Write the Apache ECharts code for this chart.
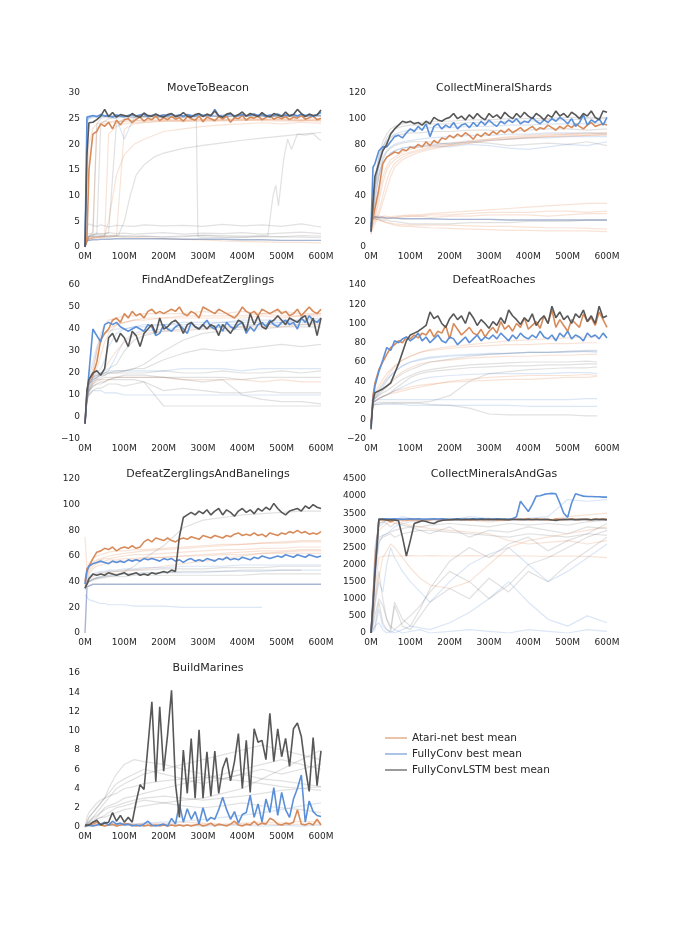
<!DOCTYPE html>
<html><head><meta charset="utf-8">
<script src="https://cdn.jsdelivr.net/npm/echarts@6/dist/echarts.min.js"></script>
<style>html,body{margin:0;padding:0;background:#fff}#c{width:675px;height:945px}</style>
</head><body><div id="c"></div>
<script>
// ---- x grids (training frames, millions) ----
const XB = [0,5,10,20,30,40,50,60,70,80,90,100,110,120,130,140,150,160,170,180,190,200,210,220,230,240,250,260,270,280,290,300,310,320,330,340,350,360,370,380,390,400,410,420,430,440,450,460,470,480,490,500,510,520,530,540,550,560,570,580,590,600];
const XS = [0,5,10,20,30,40,50,60,80,100,125,150,200,250,300,350,400,450,500,550,600];
const XS_R = [0,5,10,20,30,40,50,60,80,100,125,150,200,250,300,350,400,450,500,550,575];
const TITLES = ['MoveToBeacon','CollectMineralShards','FindAndDefeatZerglings','DefeatRoaches','DefeatZerglingsAndBanelings','CollectMineralsAndGas','BuildMarines'];
const LEGEND_NAMES = ['Atari-net best mean','FullyConv best mean','FullyConvLSTM best mean'];

// ---- MoveToBeacon ----
const MTB_ATARI = [0,2, 15,22,22.5,24,23.5,24.3,23,24.7,23.8,24.8, 25,24.2,24.9,25.3,24.5,25.1,24.8,25.5,24.6,25.2, 24.8,25.4,24.9,25.2,24.5,25.4,25.0,24.7,25.5,24.4, 25.3,25.0,24.6,25.4,24.9,25.5,24.3,25.2,25.0,25.6, 24.7,25.3,25.1,25.5,24.8,25.2,25.6,24.9,25.3,25.0, 25.4,24.8,25.3,25.1,25.6,24.9,25.2,25.5,24.8,25.1];
const MTB_FC = [0,25.3, 25.5,25.6,25.4,25.8,25.5,25.6,25.3,25.7,25.5,25.4, 25.6,25.8,25.5,25.7,25.9,25.4,25.6,25.8,25.5,25.7, 25.6,25.9,25.5,25.7,25.4,25.8,25.6,25.5,25.9,25.6, 25.7,25.5,26.8,25.6,25.4,25.7,25.9,25.5,25.6,25.8, 25.5,25.7,25.9,25.6,25.8,25.4,25.7,25.6,25.9,25.5, 25.7,25.6,25.8,25.5,25.9,25.6,25.7,25.4,25.8,26.2];
const MTB_LSTM = [0,18, 24.2,24.3,24.8,25.5,26.8,25.4,26.2,25.3,25.8,25.6, 25.4,26.0,25.5,25.3,26.1,25.6,25.5,25.9,25.5,25.3, 25.8,26.0,25.4,25.6,26.2,25.5,25.3,25.8,26.0,25.4, 25.9,25.6,26.5,25.5,25.3,25.9,26.1,25.4,25.8,26.3, 25.5,26.0,25.7,25.4,26.2,25.6,25.3,26.0,25.7,25.4, 26.3,25.5,25.8,26.8,26.0,25.4,25.9,25.6,25.7,26.7];
const MTB_BG_ATARI = [
 [0,1.5,1.6,1.8,23,24,24,24.2,24.4,24.5, 24.6,24.5,24.7,24.6,24.8,24.7,24.9,24.8,24.8,24.7,24.6],
 [0,1.5,1.6,1.7,1.8,1.9,2,22,23.5,24, 24.2,24.3,24.5,24.4,24.6,24.5,24.7,24.6,24.5,24.6,24.5],
 [0,1.5,1.7,1.8,1.9,2,2.2,5,14,18, 20,21,22.5,23,23.5,23.8,24,24.2,24,24.3,24.1],
 [0,1.3,1.5,1.7,1.8,1.9,2,2,2,1.9, 1.9,1.8,1.6,1.5,1.4,1.2,1.1,1,0.9,0.9,0.8],
 [0,1.5,1.6,1.7,1.8,1.9,1.9,2,2.2,23, 24,24.2,24.5,24.6,24.5,24.7,24.6,24.8,24.7,24.6,24.8],
 [0,12,20,23,24,24.2,24.5,24.4,24.6,24.5, 24.7,24.6,24.8,24.7,24.9,24.8,25,24.9,25,24.8,25]
];
const MTB_BG_FC = [
 [0,24.5,25,25.2,25.4,25.3,25.5,25.4,25,21, 25.3,25.5,25.4,25.6,25.5,25.4,25.6,25.5,25.6,25.4,25.5],
 [0,25,25.3,25.5,25.6,25.5,25.7,25.6,25.5,25.6, 25.7,25.6,25.8,25.7,25.6,25.8,25.7,25.6,25.8,25.7,25.6],
 [0,24,25.2,25.4,25.5,25.6,25.4,25.5,25.7,25.5, 25.6,25.5,25.7,25.6,25.8,25.5,25.6,25.7,25.6,25.5,25.7]
];
const MTB_BG_FC_DENSE = [
 [0,1.2,1.3,1.4,1.4,1.5,1.5,1.5,1.6,1.6, 1.6,1.6,1.6,1.5,1.5,1.5,1.4,1.4,1.3,1.3,1.3]
];
const MTB_BG_LSTM = [
 [0,4,4.5,4.2,4,4.3,4.1,3.9,4.2,4.1, 4,4.3,4.1,4.2,4,4.4,4.1,4.3,4,4.5,3.9],
 [0,2.6,2.8,2.5,2.7,2.6,2.5,2.8,2.6,2.7, 2.5,2.6,2.8,2.5,2.7,2.6,2.8,2.5,2.7,2.9,2.6],
 [0,2,2.1,1.9,2,2.2,2,1.9,2.1,2, 2,2.1,1.9,2,2.2,2,1.9,2.1,2,2.2,2.1],
 [0,1.5,2,3,24,25,25.3,25.2,25.4,25.5, 25.3,25.5,25.4,25.6,25.5,25.4,25.6,25.5,25.4,25.6,25.5],
 [0,2,2.2,2.3,2.4,2.5,2.6,2.8,24,25, 25.2,25.3,25.4,25.3,25.5,25.4,25.6,25.5,25.4,25.5,25.6]
];
const MTB_BG_LSTM_PAIRS = [
 [[0,0],[5,2],[30,2.5],[40,24],[60,25],[100,25.3],[150,25.4],[200,25.2],[250,25.3],[283,25.1],[287,2],[300,1.8],[400,1.9],[500,2],[600,1.8]],
 [[0,0],[10,2],[50,2.2],[85,2.3],[100,5],[115,10],[130,14],[150,16],[175,17.5],[200,18.3],[250,19.2],[300,19.8],[350,20.3],[400,20.8],[450,21.2],[500,21.6],[550,22],[600,22.3]],
 [[0,0],[10,2],[100,2.2],[200,2],[300,2.3],[400,2.1],[465,2.2],[478,10],[485,12],[492,8],[505,17],[515,21],[525,19],[540,22],[560,21.8],[580,22.1],[595,21],[600,20.8]]
];

// ---- CollectMineralShards ----
const CMS_ATARI = [18,22, 30,45,65,70,72,74,73,76,75,78, 77,80,78,82,79,83,81,85,84,87, 85,88,86,89,87,84,88,86,89,87, 90,88,91,89,92,89,91,93,90,92, 94,91,93,92,95,93,91,94,92,95, 93,96,94,92,95,97,94,95,96,95];
const CMS_FC = [15,62, 65,75,78,78,82,86,87,85,89,92, 90,94,91,96,86,94,96,92,95,93, 97,92,95,96,93,97,94,98,95,99, 96,94,98,96,99,97,100,96,98,97, 101,98,96,99,97,100,98,101,99,96, 100,94,97,103,95,99,97,100,95,101];
const CMS_LSTM = [12,35, 55,65,75,80,88,92,95,98,97,98, 96,97,95,98,96,101,99,98,100,101, 104,100,102,99,103,100,104,101,99,104, 101,103,100,105,102,100,104,101,105,102, 100,104,102,99,103,101,106,102,104,101, 105,103,100,104,102,106,101,99,106,105];
const CMS_BG_ATARI = [
 [10,18,22,35,50,60,65,68,72,74, 76,78,80,82,84,85,86,87,88,88,89],
 [10,18,20,28,40,52,60,65,70,73, 75,77,79,81,83,84,85,86,87,87,88],
 [12,20,24,40,55,63,68,70,74,76, 78,79,81,83,84,86,87,88,88,89,89],
 [12,15,18,25,35,45,55,62,68,71, 74,76,79,81,83,84,85,86,86,87,87],
 [22,23,24,24,23.5,23,23.5,24,24.5,25, 25,26,27,28,29,30,31,32,33,34,34],
 [22,22,22,21,20,19,18,17,16,16, 15.5,15,14.5,14,13.5,13,13,12.5,12.5,12.5,12],
 [22,23,22,21,20,19,18.5,18,17.5,17, 17,17,17,16.5,16,16,15.5,15,15,14.5,14],
 [22,23,23,22.5,22,22,22,23,23,24, 24,25,25,26,27,27,27,28,28,27,28],
 [22,24,23,23,24,24,23,23,24,24, 24,23,24,24,25,25,25,24,25,26,26]
];
const CMS_BG_FC = [
 [12,25,40,55,65,70,73,75,77,78, 79,80,81,82,83,84,85,85,86,86,86],
 [12,30,50,62,70,75,78,80,82,83, 84,85,86,87,87,88,88,89,89,89,88],
 [12,28,45,58,66,70,73,75,77,78, 78,79,78,80,79,77,76,78,80,79,82],
 [12,35,55,70,78,83,86,88,90,91, 92,93,93,94,94,95,95,96,96,96,97]
];
const CMS_BG_FC_DENSE = [
 [22,23,23.5,23,23,22.5,22.5,22.5,22,22, 22,22,21.5,21.5,21.5,21,21,21,21,21,21]
];
const CMS_BG_LSTM = [
 [12,30,50,70,82,88,92,94,96,97, 97,98,98,99,99,100,100,100,101,101,101],
 [12,25,45,65,78,85,89,92,94,95, 95,96,96,97,97,98,98,99,99,100,100],
 [12,22,35,55,68,74,77,79,81,82, 82,82,80,82,81,79,80,81,80,82,79],
 [22,22,22,21.5,21,21,20,20,19,18, 18,18,18,19,19,19,20,20,20,21,21],
 [12,28,48,66,76,82,85,87,88,89, 89,90,90,91,91,90,91,92,92,91,92]
];

// ---- FindAndDefeatZerglings ----
const FDZ_ATARI = [-3,12, 17,19,25,35,38,40,44,45,43,47, 45,48,46,47,45,48,49,47,48,47, 48,49,48,50,47,46,48,47,45,50, 49,48,47,49,48,47,46,45,47,50, 48,47,48,46,49,48,47,48,49,47, 48,46,47,49,46,48,50,48,47,49];
const FDZ_FC = [-3,10, 20,40,37,34,42,43,42,43,41,40, 39,40,41,40,39,42,41,37,38,42, 40,39,41,42,40,38,43,41,40,42, 44,41,40,42,39,43,41,40,42,43, 38,41,39,42,43,41,44,42,41,43, 44,42,43,40,45,43,46,44,43,45];
const FDZ_LSTM = [-3,12, 17,20,21,19,22,36,38,34,38,36, 32,39,37,32,38,40,42,38,45,40, 41,43,44,42,38,42,43,41,40,42, 40,42,41,37,42,40,38,41,44,43, 39,47,42,46,41,40,43,44,46,44, 42,45,44,43,45,46,41,45,37,45];
const FDZ_BG_ATARI = [
 [-3,12,16,20,30,38,42,44,45,46, 46,47,47,47,48,47,48,47,48,47,47],
 [-3,10,15,18,22,28,34,38,42,43, 44,45,45,46,46,46,46,47,46,46,47],
 [-3,9,12,15,16,17,17,17,18,18, 18,18,18,17,17,17,17,16,17,16,16],
 [-3,12,16,22,30,35,38,40,42,43, 44,44,45,45,45,45,45,46,45,46,46],
 [-3,8,12,16,18,20,22,25,30,34, 37,38,39,39,40,40,41,41,41,42,42]
];
const FDZ_BG_FC = [
 [-3,10,16,18,20,22,26,32,38,40, 41,42,42,43,43,43,44,44,44,44,45],
 [-3,8,14,17,18,19,20,21,28,35, 38,39,40,41,41,42,42,42,43,43,43],
 [-3,7,10,12,12,12,11,11,11,10, 10,10,10,10,10,10,10,10,10,10,10],
 [-3,12,18,25,32,36,38,39,40,40, 41,41,42,42,42,43,43,43,43,44,44],
 [-3,10,14,17,18,20,20,21,21,21, 21,21,21,22,22,22,21,22,22,22,22]
];
const FDZ_BG_LSTM = [
 [-3,10,15,18,19,20,21,22,24,30, 35,37,39,40,40,41,41,42,42,42,43],
 [-3,10,15,17,18,19,19,20,21,21, 22,24,30,35,38,39,40,40,41,41,41],
 [-3,10,15,18,19,19,20,20,20,20, 20,20,21,20,20,21,20,20,21,20,21],
 [-3,9,13,16,17,17,18,18,18,18, 18,18,18,18,18,18,17,18,18,18,18],
 [-3,8,10,12,13,13,14,15,15,14, 15,16,12,13,12,11,11,12,11,11,11],
 [-3,8,11,14,15,16,16,17,17,17, 17,16,5,5,5,5,5,5,5,5,5],
 [-3,9,12,15,17,18,19,20,20,21, 22,22,26,29,31,30,31,32,33,32,33],
 [-3,9,12,14,15,15,16,17,18,19, 19,19,18,17,16,17,10,8,7,7,6]
];

// ---- DefeatRoaches ----
const DR_ATARI = [-5,25, 38,52,60,68,75,78,82,80,86,84, 88,85,90,88,94,86,92,90,98,84, 100,94,88,92,96,90,88,94,86,92, 96,90,102,94,98,92,100,96,106,94, 98,102,95,108,100,114,96,104,98,92, 104,100,96,110,102,106,98,112,104,96];
const DR_FC = [-8,20, 35,50,62,75,72,82,80,84,86,82, 85,90,82,86,80,84,88,82,80,86, 84,78,82,86,80,84,88,82,86,84, 88,84,90,86,82,88,84,90,86,84, 88,85,92,86,84,88,82,90,86,92, 84,88,86,82,90,86,88,84,90,85];
const DR_LSTM = [-10,20, 28,30,32,35,38,48,58,70,82,88, 90,92,95,98,112,105,108,100,96,105, 110,104,108,100,112,106,98,104,100,95, 102,98,106,100,114,108,104,99,106,102, 110,98,104,108,100,118,106,112,104,108, 100,110,106,114,102,108,100,118,106,108];
const DR_BG_ATARI = [
 [-5,20,26,32,38,44,50,55,62,66, 70,72,74,76,77,78,78,79,79,80,80],
 [-5,18,20,22,24,26,27,28,30,32, 34,36,40,42,44,45,46,46,46,47,46],
 [-5,20,28,35,42,48,52,56,62,66, 70,73,76,78,80,82,83,84,85,86,86],
 [-5,18,24,28,32,36,40,44,50,54, 58,60,62,64,65,66,66,67,67,68,68],
 [-5,18,20,22,24,26,28,30,32,34, 36,37,39,40,41,42,42,43,44,44,45]
];
const DR_BG_FC = [
 [-5,18,24,30,36,42,46,50,56,60, 62,64,66,67,68,69,70,70,70,71,70],
 [-5,18,20,22,24,26,28,30,34,38, 42,44,46,47,48,48,48,48,49,49,48],
 [-5,18,20,21,21,21,21,21,21,21, 21,21,21,21,21,21,21,21,21,22,22],
 [-5,16,16,16,16,16,16,16,16,15, 15,15,15,15,15,15,14,14,14,14,14],
 [-5,18,22,28,34,40,46,50,56,60, 63,65,67,68,69,69,70,70,71,71,71]
];
const DR_BG_LSTM = [
 [-5,18,22,25,28,30,33,36,42,46, 50,52,55,57,58,59,60,60,60,61,60],
 [-5,18,22,26,30,34,38,42,48,52, 56,60,63,66,68,69,70,70,71,72,72],
 [-5,18,20,22,24,26,28,32,38,44, 48,50,52,54,55,56,56,57,57,58,58],
 [-5,16,18,18,18,18,18,17,17,17, 17,16,15,12,6,5,5,5,5,4,4],
 [-5,15,16,16,17,17,17,18,18,18, 18,19,25,40,48,50,52,53,54,54,55]
];

// ---- DefeatZerglingsAndBanelings ----
const DZB_ATARI = [40,50, 52,58,63,64,66,65,67,64,66,67, 66,68,66,67,71,73,71,74,73,72, 74,72,71,73,74,73,75,74,73,76, 75,74,76,75,74,76,75,77,78,76, 77,76,78,76,77,75,78,77,76,78, 77,79,78,80,78,79,77,78,77,79];
const DZB_FC = [38,48, 52,54,55,56,55,54,56,55,56,55, 57,56,57,56,58,57,58,57,56,58, 57,58,56,57,55,57,58,56,57,56, 58,57,56,58,57,59,57,58,57,59, 58,57,59,58,60,59,58,59,60,59, 61,60,59,61,60,59,61,60,59,60];
const DZB_LSTM = [35,38, 42,46,45,46,45,47,46,45,46,47, 45,46,47,45,46,45,47,46,47,48, 47,49,48,75,90,92,94,92,95,93, 96,92,95,97,92,96,94,91,95,97, 94,96,93,97,95,98,96,101,97,94, 92,95,96,97,95,99,97,100,98,97];
const DZB_BG_ATARI = [
 [75,50,54,58,60,61,62,63,64,64, 65,65,66,67,68,69,69,70,70,71,71],
 [38,45,50,54,56,57,58,58,59,60, 61,61,62,63,64,65,65,66,66,67,67],
 [36,42,46,50,52,53,54,55,56,56, 57,58,59,60,61,62,63,64,64,65,65],
 [35,40,42,44,45,46,46,47,48,48, 49,50,52,54,56,58,60,62,63,64,64],
 [36,44,48,52,54,55,56,57,57,58, 58,59,59,60,60,61,61,62,62,62,62],
 [38,48,52,55,57,58,59,60,61,62, 63,64,65,66,67,68,69,70,71,72,72]
];
const DZB_BG_FC = [
 [35,40,44,46,47,48,48,49,49,50, 50,51,51,52,52,52,53,53,53,53,53],
 [34,38,40,42,43,44,44,45,45,46, 46,46,47,47,47,48,48,48,49,49,49],
 [30,28,26,25,24,23,23,22,22,22, 21,21,21,20,20,20,20,20,null,null,null]
];
const DZB_BG_FC_DENSE = [
 [0,36,37,38,38,38,38,38,38,38, 38,38,38,38,38,38,38,38,38,38,38]
];
const DZB_BG_LSTM = [
 [35,40,43,45,46,47,47,48,48,49, 49,49,50,50,50,51,51,51,52,52,52],
 [34,38,40,42,43,44,45,45,46,46, 46,47,47,48,48,48,49,49,49,49,null],
 [35,38,40,41,42,43,43,44,45,48, 52,58,68,82,88,90,92,93,94,95,95],
 [34,38,40,42,43,43,44,44,44,44, 45,45,45,45,45,45,45,46,46,46,46]
];

// ---- CollectMineralsAndGas ----
const CMG_ATARI = [0,1000, 2000,3300,3320,3300,3250,3300,3310,3320,3300,3310, 3320,3310,3300,3320,3310,3330,3310,3320,3300,3310, 3320,3330,3310,3320,3300,3310,3330,3320,3310,3320, 3330,3310,3320,3300,3310,3330,3320,3310,3330,3320, 3310,3320,3330,3310,3320,3300,3330,3320,3310,3320, 3330,3320,3310,3330,3320,3310,3330,3320,3330,3320];
const CMG_FC = [0,900, 1800,3330,3330,3340,3330,3340,3330,3320,3330,3340, 3330,3340,3330,3320,3330,3340,3330,3340,3330,3320, 3330,3340,3330,3320,3330,3340,3330,3340,3330,3320, 3330,3340,3330,3320,3330,3340,3400,3850,3700,3550, 3750,4000,4010,4050,4070,4080,4070,3800,3500,3380, 3800,4070,4030,4000,3990,3990,3980,3980,3970,3970];
const CMG_LSTM = [0,800, 1700,3320,3320,3300,3310,3300,3280,2800,2250,2700, 3200,3240,3280,3260,3220,3200,3260,3290,3300,3310, 3310,3320,3310,3320,3315,3320,3310,3320,3315,3320, 3310,3320,3315,3320,3310,3320,3315,3320,3310,3320, 3315,3320,3310,3320,3315,3300,3290,3310,3320,3315, 3320,3310,3320,3315,3320,3310,3320,3315,3320,3310];
const CMG_BG_ATARI = [
 [0,500,1200,2200,2250,2250,2260,2250,2250,2260, 2250,2260,2250,2260,2250,2260,2250,2240,2250,2240,2200],
 [0,300,900,1600,2200,2400,2600,2500,2200,1900, 1600,1400,1300,1500,2000,2500,2700,2800,2900,3000,3100],
 [0,800,2000,3000,3100,3200,3250,3200,3250,3300, 3250,3300,3350,3300,3250,3300,3350,3300,3400,3450,3500],
 [0,900,2400,3200,3250,3280,3300,3250,3200,3150, 3100,3050,3000,2950,2900,2700,2600,2650,2700,2600,2700]
];
const CMG_BG_FC = [
 [0,600,1500,2600,2850,2900,3000,3100,3200,3250, 3300,3300,3300,3310,3300,3310,3300,3310,3300,3310,3300],
 [0,50,100,700,200,100,0,100,0,50, 100,0,50,100,50,0,100,50,0,100,50],
 [0,300,800,1500,1200,2000,2500,2200,1800,1500, 1200,900,1500,2000,2300,2500,2000,1500,1800,2200,2600],
 [0,100,200,300,100,0,50,0,100,200, 150,100,300,600,1000,1500,900,400,200,500,300],
 [0,900,2200,3100,3200,3300,3350,3300,3400,3350, 3300,3350,3300,3400,3350,3300,3350,3400,3900,3850,3900]
];
const CMG_BG_LSTM = [
 [0,800,2000,2800,2850,2900,2950,3000,3050,3100, 3100,3150,3200,3150,3100,3200,3150,3200,3150,3250,3300],
 [0,700,1800,2700,2800,2850,2900,2800,2900,2950, 3000,3000,2950,2900,2850,2800,2900,2850,2800,2900,2850],
 [0,100,200,900,300,100,50,800,200,100, 500,900,1300,1000,1600,1200,1800,1500,2000,2400,2800],
 [0,200,500,1000,800,400,200,100,300,500, 800,1200,1800,1500,1000,1400,2000,2200,2500,2800,3000],
 [0,1000,2500,3200,3250,3200,3100,3200,3150,3100, 3000,2900,3100,2800,3000,2950,3100,3000,2900,3100,3050],
 [0,400,1000,1800,1000,400,100,900,400,200, 700,1300,2100,2500,2200,2600,2800,2400,2700,2900,3200]
];

// ---- BuildMarines ----
const BM_ATARI = [0.1,0.1, 0.2,0.3,0.5,0.2,0.1,0.2,0.3,0.1,0.2,0.3, 0.3,0.2,0.1,0.2,0.1,0.2,0.1,0.2,0.1,0.2, 0.1,0.2,0.1,0.2,0.1,0.2,0.1,0.2,0.3,0.1, 0.2,0.4,0.1,0.3,0.2,0.1,0.3,0.6,0.2,0.1, 0.3,0.2,0.6,0.2,0.4,0.3,0.9,0.7,0.3,0.2, 0.4,0.3,0.5,1.8,0.3,0.2,0.4,0.2,0.8,0.2];
const BM_FC = [0.1,0.1, 0.2,0.1,0.2,0.3,0.5,0.2,0.6,0.3,0.4,0.2, 0.3,0.1,0.2,0.1,0.3,0.6,0.2,0.1,0.2,0.3, 0.1,0.9,0.3,2.4,0.5,1.9,0.8,1.6,0.3,2.0, 0.6,1.0,0.8,1.8,3.1,1.8,0.8,1.6,0.4,1.3, 1.5,3.3,1.0,2.4,0.5,2.9,1.5,4.1,1.2,3.6, 1.8,1.0,2.9,4.0,5.4,0.5,2.7,1.6,1.2,1.1];
const BM_LSTM = [0.2,0.3, 0.2,0.5,0.7,0.2,0.4,0.5,1.5,0.6,1.2,0.5, 1.0,0.5,2.6,4.4,3.9,8.4,13.0,4.7,12.5,5.8, 9.6,14.2,4.5,1.0,8.0,3.5,9.2,3.0,10.1,3.0, 7.8,3.2,7.9,3.5,6.1,7.2,4.8,6.8,9.7,4.0, 9.0,3.6,10.2,8.8,9.0,7.0,11.8,6.8,10.2,7.3, 9.2,6.3,10.2,10.8,9.4,6.2,3.7,9.3,4.3,7.9];
const BM_BG_ATARI = [
 [0,0.1,0.1,0.1,0.1,0.2,0.1,0.2,0.2,0.2, 0.2,0.2,0.3,0.2,0.3,0.2,0.3,0.3,0.2,0.3,0.3],
 [0,0.2,0.3,0.2,0.3,0.4,0.3,0.2,0.3,0.4, 0.3,0.4,0.3,0.5,0.4,0.3,0.4,0.5,0.4,0.6,0.5]
];
const BM_BG_FC = [
 [0,0.1,0.1,0.2,0.2,0.3,0.2,0.3,0.3,0.4, 0.3,0.4,0.5,0.6,0.8,1,1.2,1.5,1.8,2.2,2.5],
 [0,0.1,0.1,0.1,0.2,0.2,0.1,0.2,0.1,0.2, 0.2,0.1,0.2,0.2,0.1,0.2,0.2,0.1,0.2,0.1,0.2]
];
const BM_BG_LSTM = [
 [0,0.5,1,1.5,2,2.5,3,4,5.5,6.5, 7,6.8,6.5,6,5.5,5,4.8,4.5,4.2,4,3.8],
 [0,0.3,0.6,1,1.5,2,2.5,3,4,4.5, 5,5.5,6,6.5,7,7.5,8,8.5,8,7.5,7],
 [0,0.2,0.5,0.8,1,1.5,2,2.2,2.5,3, 3.2,3.5,4,4.5,5,5.5,6,6.5,7,6.5,6],
 [0,0.3,0.5,1,1.2,1.5,1.8,2,2.2,2.5, 2.8,3,3.2,3,2.8,3,3.2,3.5,3.8,4,4.2],
 [0,0.2,0.3,0.5,0.8,1,1.2,1.5,2,2.2, 2.5,2.8,2.5,2.2,2,2.2,2.5,2.2,2,1.8,1.5],
 [0,0.5,1,1.5,2,2.5,3,3.5,4.5,5, 5.5,6,5.5,5,4.5,5,5.5,6,5.5,6,6.5],
 [0,0.2,0.4,0.6,0.8,1,1,1.2,1.5,1.8, 2,2.2,2.5,2.8,3,3.5,4,5,6,7,8],
 [0,1,1.5,2,2.5,2.8,3,3.2,3.5,4, 4.2,4.5,4.8,5,5.2,5,5.5,5,4.8,4.5,4.2]
];

// ---- y-axis ranges per panel ----
const Y_MIN = [0,0,-10,-20,0,0,0];
const Y_MAX = [30,120,60,140,120,4500,16];
const Y_STEP = [5,20,10,20,20,500,2];

const PANELS = [
 {a:MTB_ATARI,f:MTB_FC,l:MTB_LSTM,ba:MTB_BG_ATARI,bf:MTB_BG_FC,bl:MTB_BG_LSTM,bfd:MTB_BG_FC_DENSE,blp:MTB_BG_LSTM_PAIRS,xs:XS},
 {a:CMS_ATARI,f:CMS_FC,l:CMS_LSTM,ba:CMS_BG_ATARI,bf:CMS_BG_FC,bl:CMS_BG_LSTM,bfd:CMS_BG_FC_DENSE,xs:XS},
 {a:FDZ_ATARI,f:FDZ_FC,l:FDZ_LSTM,ba:FDZ_BG_ATARI,bf:FDZ_BG_FC,bl:FDZ_BG_LSTM,xs:XS},
 {a:DR_ATARI,f:DR_FC,l:DR_LSTM,ba:DR_BG_ATARI,bf:DR_BG_FC,bl:DR_BG_LSTM,xs:XS_R},
 {a:DZB_ATARI,f:DZB_FC,l:DZB_LSTM,ba:DZB_BG_ATARI,bf:DZB_BG_FC,bl:DZB_BG_LSTM,bfd:DZB_BG_FC_DENSE,xs:XS},
 {a:CMG_ATARI,f:CMG_FC,l:CMG_LSTM,ba:CMG_BG_ATARI,bf:CMG_BG_FC,bl:CMG_BG_LSTM,xs:XS},
 {a:BM_ATARI,f:BM_FC,l:BM_LSTM,ba:BM_BG_ATARI,bf:BM_BG_FC,bl:BM_BG_LSTM,xs:XS}
];

// ---- styling / layout ----
const FONT = 'DejaVu Sans';
const TXT = '#262626';
const COL = {a:'#d88b5a', f:'#5b8fd8', l:'#575757'};
const BG = {a:'rgba(225,140,88,0.24)', f:'rgba(92,142,214,0.22)', l:'rgba(105,105,105,0.2)', fd:'rgba(80,110,165,0.5)'};
const LEFTS = [85,371];
const TOPS = [93,285,479,673];
const W = 236, H = 154;

const grids=[], xAxes=[], yAxes=[], titles=[], series=[];
const zip = (xs, ys) => ys.map((y,k)=>[xs[k], y==null?'-':y]);
function bgLine(i, data, color, w){
  series.push({type:'line', xAxisIndex:i, yAxisIndex:i, data, symbol:'none', showSymbol:false,
    lineStyle:{color, width:w||1.2}, silent:true, z:1, animation:false});
}
PANELS.forEach((p,i)=>{
  const left = LEFTS[i%2], top = TOPS[Math.floor(i/2)];
  grids.push({left, top, width:W, height:H, containLabel:false});
  xAxes.push({type:'value', gridIndex:i, min:0, max:600, interval:100,
    axisLine:{show:false}, axisTick:{show:false}, splitLine:{show:false},
    axisLabel:{formatter:'{value}M', fontSize:9, color:TXT, fontFamily:FONT, margin:5}});
  yAxes.push({type:'value', gridIndex:i, min:Y_MIN[i], max:Y_MAX[i], interval:Y_STEP[i],
    axisLine:{show:false}, axisTick:{show:false}, splitLine:{show:false},
    axisLabel:{fontSize:9, color:TXT, fontFamily:FONT, margin:5,
      formatter:v=> v<0 ? '\u2212'+Math.abs(v) : String(v)}});
  titles.push({text:TITLES[i], left:left+W/2, top:top-15, textAlign:'center',
    textStyle:{fontSize:11, fontWeight:'normal', color:TXT, fontFamily:FONT}});
  p.ba.forEach(ys=>bgLine(i, zip(p.xs,ys), BG.a));
  p.bf.forEach(ys=>bgLine(i, zip(p.xs,ys), BG.f));
  p.bl.forEach(ys=>bgLine(i, zip(p.xs,ys), BG.l));
  (p.blp||[]).forEach(pr=>bgLine(i, pr, BG.l));
  (p.bfd||[]).forEach(ys=>bgLine(i, zip(p.xs,ys), BG.fd, 1.4));
  [['a',0],['f',1],['l',2]].forEach(([k,n])=>{
    series.push({type:'line', name:LEGEND_NAMES[n], xAxisIndex:i, yAxisIndex:i, data:zip(XB,p[k]),
      symbol:'none', showSymbol:false, lineStyle:{color:COL[k], width:1.6}, itemStyle:{color:COL[k]},
      z:3, animation:false});
  });
});

const chart = echarts.init(document.getElementById('c'), null, {renderer:'canvas'});
chart.setOption({
  backgroundColor:'#fff', animation:false,
  title:titles, grid:grids, xAxis:xAxes, yAxis:yAxes, series,
  legend:{orient:'vertical', left:380, top:727, icon:'rect', itemWidth:22, itemHeight:1.5, itemGap:4, itemTextGap:10,
    selectedMode:false,
    textStyle:{fontSize:10.5, color:TXT, fontFamily:FONT, lineHeight:12},
    data:[
      {name:LEGEND_NAMES[0], itemStyle:{color:'#e4b08a'}},
      {name:LEGEND_NAMES[1], itemStyle:{color:'#8fb0df'}},
      {name:LEGEND_NAMES[2], itemStyle:{color:'#7a7a7a'}}
    ]}
});
</script></body></html>
